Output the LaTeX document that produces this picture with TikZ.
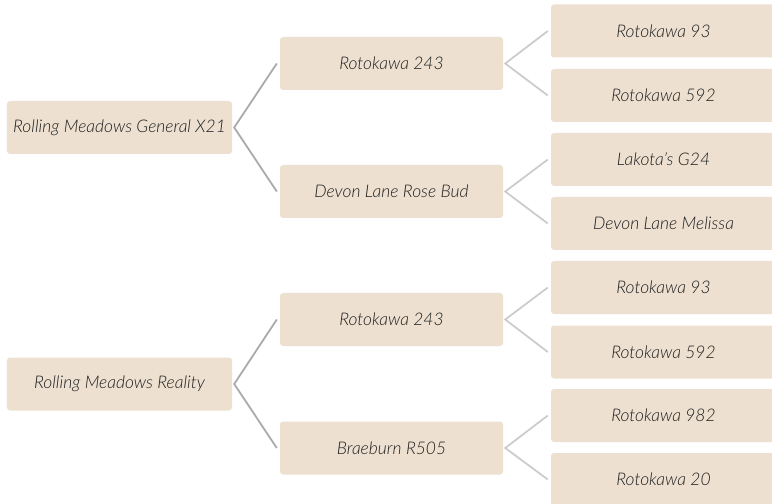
\documentclass[tikz,border=0pt]{standalone}
\usepackage{fontspec}
\setmainfont{Lato}[ItalicFont={Lato Light Italic}]
\usetikzlibrary{calc}
\definecolor{boxfill}{RGB}{237,224,208}
\definecolor{txt}{RGB}{30,30,30}
\definecolor{lineA}{RGB}{170,170,170}
\definecolor{lineB}{RGB}{204,204,204}
\tikzset{
  tbox/.style={fill=boxfill, rounded corners=3bp, minimum width=225bp, minimum height=53bp, inner sep=0pt, font=\fontsize{17.5}{20}\selectfont\itshape, text=txt, anchor=center},
  conA/.style={draw=lineA, line width=1.8bp},
  conB/.style={draw=lineB, line width=1.8bp}
}
\begin{document}
\begin{tikzpicture}[x=1bp,y=-1bp]
\useasboundingbox (0,0) rectangle (772,504);
\clip (0,0) rectangle (772,504);
% roots
\node[tbox] (r1) at (119.5,127.5) {Rolling Meadows General X21};
\node[tbox] (r2) at (119.5,384) {Rolling Meadows Reality};
% level 2
\node[tbox, minimum width=223bp] (a1) at (391.5,63.5) {Rotokawa 243};
\node[tbox, minimum width=223bp] (a2) at (391.5,191.5) {Devon Lane Rose Bud};
\node[tbox, minimum width=223bp] (a3) at (391.5,319.5) {Rotokawa 243};
\node[tbox, minimum width=223bp] (a4) at (391.5,448) {Braeburn R505};
% leaves
\node[tbox] (l1) at (663.5,31) {Rotokawa 93};
\node[tbox] (l2) at (663.5,95.5) {Rotokawa 592};
\node[tbox] (l3) at (663.5,159.5) {Lakota's G24};
\node[tbox] (l4) at (663.5,223.5) {Devon Lane Melissa};
\node[tbox] (l5) at (663.5,287.5) {Rotokawa 93};
\node[tbox] (l6) at (663.5,352) {Rotokawa 592};
\node[tbox] (l7) at (663.5,415.5) {Rotokawa 982};
\node[tbox] (l8) at (663.5,479.5) {Rotokawa 20};
% connectors root -> level 2
\draw[conA] ($(a1.west)+(-3,0)$) -- ($(r1.east)+(2,0)$) -- ($(a2.west)+(-3,0)$);
\draw[conA] ($(a3.west)+(-3,0)$) -- ($(r2.east)+(2,0)$) -- ($(a4.west)+(-3,0)$);
% connectors level 2 -> leaves
\draw[conB] ($(l1.west)+(-3,0)$) -- ($(a1.east)+(2,0)$) -- ($(l2.west)+(-3,0)$);
\draw[conB] ($(l3.west)+(-3,0)$) -- ($(a2.east)+(2,0)$) -- ($(l4.west)+(-3,0)$);
\draw[conB] ($(l5.west)+(-3,0)$) -- ($(a3.east)+(2,0)$) -- ($(l6.west)+(-3,0)$);
\draw[conB] ($(l7.west)+(-3,0)$) -- ($(a4.east)+(2,0)$) -- ($(l8.west)+(-3,0)$);
\end{tikzpicture}
\end{document}
